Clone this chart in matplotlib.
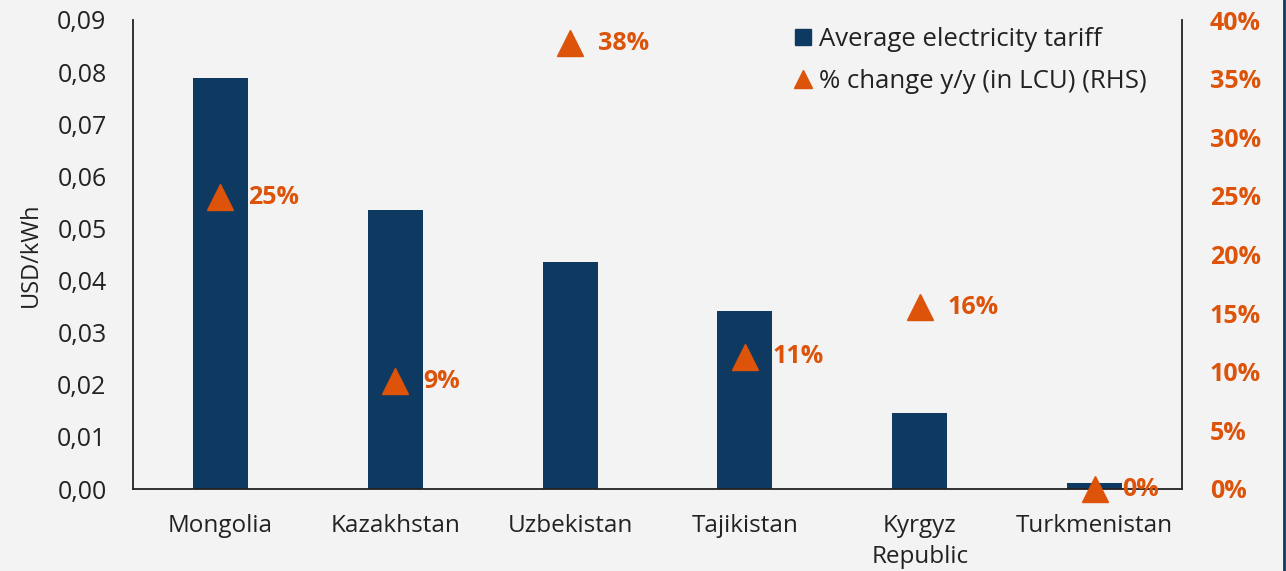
import numpy as np
import matplotlib.pyplot as plt
from matplotlib.ticker import FuncFormatter, MultipleLocator
from matplotlib.lines import Line2D

# Data
countries = ['Mongolia', 'Kazakhstan', 'Uzbekistan', 'Tajikistan', 'Kyrgyz\nRepublic', 'Turkmenistan']
tariff = [0.0789, 0.0535, 0.0436, 0.0341, 0.0146, 0.0012]   # USD/kWh
change = [25, 9, 38, 11, 16, 0]                             # % y/y (LCU)
change_pos = [24.9, 9.2, 38.0, 11.3, 15.5, 0.0]            # plotted height, %

bar_color = '#0E3A62'
orange = '#DC5309'
bg = '#F3F3F3'

plt.rcParams['font.family'] = ['Open Sans', 'DejaVu Sans']

fig = plt.figure(figsize=(12.86, 5.71), dpi=100, facecolor=bg)
ax = fig.add_axes([133 / 1286, 1 - 489 / 571, (1182 - 133) / 1286, (489 - 20) / 571])
ax.set_facecolor(bg)
x = np.arange(len(countries))
ax.bar(x, tariff, width=0.315, color=bar_color, zorder=2)
ax.set_xlim(-0.5, len(countries) - 0.5)
ax.set_ylim(0, 0.09)
ax.yaxis.set_major_locator(MultipleLocator(0.01))
ax.yaxis.set_major_formatter(FuncFormatter(lambda v, p: f'{v:.2f}'.replace('.', ',')))
ax.set_xticks(x)
ax.set_xticklabels(countries, fontsize=17.5, color='#222222', linespacing=1.4)
ax.tick_params(axis='y', length=0, labelsize=18, colors='#222222', pad=19)
ax.tick_params(axis='x', length=0, colors='#222222', pad=18)
ax.set_ylabel('USD/kWh', fontsize=17, color='#222222', labelpad=10)
for s in ['left', 'bottom']:
    ax.spines[s].set_color('#222222')
    ax.spines[s].set_linewidth(1.3)
ax.spines['top'].set_visible(False)
ax.spines['right'].set_visible(False)

ax2 = ax.twinx()
ax2.set_ylim(0, 40)
ax2.yaxis.set_major_locator(MultipleLocator(5))
ax2.yaxis.set_major_formatter(FuncFormatter(lambda v, p: f'{v:.0f}%'))
ax2.tick_params(axis='y', length=0, labelsize=18, colors=orange, pad=20)
for lab in ax2.get_yticklabels():
    lab.set_fontweight('bold')
ax2.spines['right'].set_color('#222222')
ax2.spines['right'].set_linewidth(1.3)
for s in ['top', 'left', 'bottom']:
    ax2.spines[s].set_visible(False)
ax2.plot(x, change_pos, linestyle='none', marker='^', markersize=19,
         color=orange, zorder=5, clip_on=False)
for xi, yi, c in zip(x, change_pos, change):
    ax2.annotate(f'{c}%', (xi, yi), xytext=(20, 0), textcoords='offset points',
                 ha='left', va='center', fontsize=18, fontweight='bold',
                 color=orange, annotation_clip=False)

handles = [
    Line2D([], [], linestyle='none', marker='s', markersize=12, color=bar_color),
    Line2D([], [], linestyle='none', marker='^', markersize=13, color=orange),
]
ax2.legend(handles, ['Average electricity tariff', '% change y/y (in LCU) (RHS)'],
           loc='upper right', bbox_to_anchor=(0.988, 1.034), frameon=False,
           fontsize=18.5, handletextpad=0.1, handlelength=1.0, labelspacing=0.65,
           labelcolor='#222222')

fig.add_artist(Line2D([0.9985, 0.9985], [0, 1], color=bar_color, linewidth=2,
                      transform=fig.transFigure))

fig.savefig('out.png', dpi=100, facecolor=bg)
